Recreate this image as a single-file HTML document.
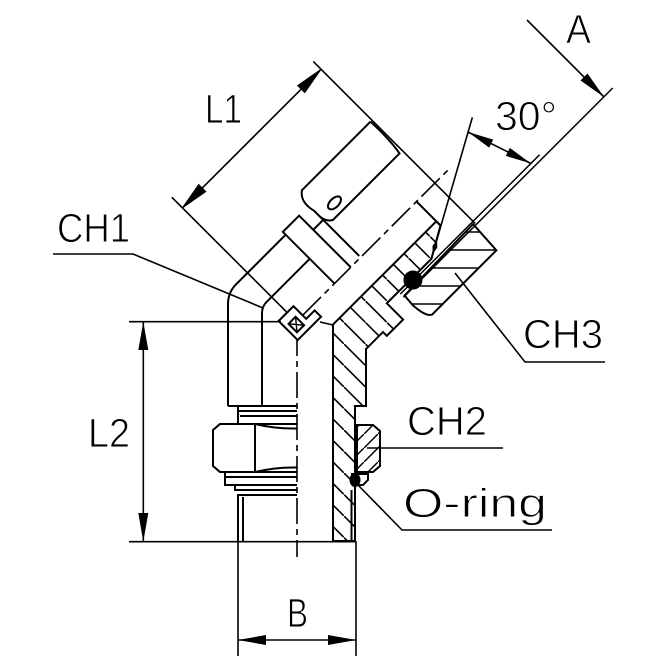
<!DOCTYPE html>
<html><head><meta charset="utf-8"><style>
html,body{margin:0;padding:0;background:#fff;}
svg{display:block;}
text{font-family:"Liberation Sans",sans-serif;font-size:41px;fill:#000;stroke:#fff;stroke-width:0.9px;}
</style></head><body>
<svg width="670" height="670" viewBox="0 0 670 670" xmlns="http://www.w3.org/2000/svg">
<defs>
<pattern id="hb" patternUnits="userSpaceOnUse" width="21.5" height="21.5">
<line x1="-1" y1="-1" x2="22.5" y2="22.5" stroke="#000" stroke-width="1.6"/>
</pattern>
<pattern id="hf" patternUnits="userSpaceOnUse" width="14" height="14">
<line x1="-1" y1="15" x2="15" y2="-1" stroke="#000" stroke-width="1.5"/>
</pattern>
<pattern id="hh" patternUnits="userSpaceOnUse" width="20" height="18">
<line x1="0" y1="16" x2="20" y2="16" stroke="#000" stroke-width="1.6"/>
</pattern>
</defs>
<rect width="670" height="670" fill="#fff"/>
<g fill="none" stroke="#000" stroke-width="2">
<!-- section body -->
<path d="M333,541 L333,324.6 L436.3,221.3 L440.5,225.5 L431.4,258.8 L386.8,303.3 L403.1,319.6 L386.8,335.8 L383,332 L366,349 L366,406 L355,406 L355,541 Z" fill="url(#hb)"/>
<line x1="351.5" y1="490" x2="351.5" y2="541"/>
<!-- nut section -->
<path d="M404.5,295.5 L412.3,304.7 Q425.7,316.8 432.1,314.6 L496.4,250.3 L473.1,224.1 Z" fill="url(#hh)"/>
<!-- CH2 nut -->
<path d="M357,425 L373,425 L380,431 L380,466 L373,472 L357,472 Z" fill="url(#hf)"/>
<path d="M352,474 L368,474 L368,480 L363,485 L353,485 Z"/>
<ellipse cx="355" cy="480" rx="4.5" ry="6" fill="#000"/>

<!-- left vertical body -->
<path d="M228,406 L228,304 Q228,292.4 236.2,284.2 L285.7,234.7"/>
<path d="M262,406 L262,313 Q262,306.5 266.6,301.9 L309.7,258.8"/>
<line x1="228" y1="406" x2="297" y2="406"/>
<path d="M238,406 L238,424"/>
<line x1="238" y1="411" x2="297" y2="411"/>
<line x1="240" y1="416" x2="297" y2="416"/>
<path d="M297,424 L220,424 L213,430 L213,466 L220,472 L297,472"/>
<line x1="255" y1="424" x2="255" y2="472"/>
<path d="M255,424 Q276,429 297,428.5"/>
<path d="M255,472 Q276,467 297,467.5"/>
<path d="M225,472 L225,485 L297,485"/>
<line x1="225" y1="477" x2="297" y2="477"/>
<path d="M235,485 L235,490 L297,490"/>
<path d="M238,541 L238,495 L297,495"/>
<line x1="243" y1="497" x2="243" y2="541"/>

<!-- vertical centerline -->
<line x1="297" y1="330" x2="297" y2="557" stroke-width="1.6" stroke-dasharray="26 5 6 5"/>

<!-- branch -->
<g transform="translate(297 321) rotate(-45)">
  <path d="M53,0 L53,-73 L76,-73 L76,0"/>
  <line x1="76" y1="-53" x2="90" y2="-53"/>
  <path d="M193,-89 L96,-89 Q86,-82 90,-66 L90,-2"/>
  <path d="M90,-58 Q91,-49 97,-46 L191,-46 Q194,-62 193,-89"/>
  <ellipse cx="110" cy="-57" rx="8" ry="4.5"/>
  <line x1="169" y1="0" x2="169" y2="34"/>
  <line x1="92" y1="54" x2="289" y2="54" stroke-width="1.5"/>
  <line x1="92" y1="58.5" x2="388" y2="58.5" stroke-width="1.5"/>
  <circle cx="111" cy="53" r="8.5" fill="#000"/>
  <line x1="139" y1="51" x2="268" y2="-20" stroke-width="1.6"/>
  <polygon points="155.3,42.1 150.96,46.75 144.7,47.9 149.04,43.25" fill="#000" stroke-width="1"/>
  <line x1="195" y1="-172" x2="195" y2="57" stroke-width="1.6"/>
  <line x1="-1" y1="-176" x2="-1" y2="10" stroke-width="1.6"/>
  <line x1="-1" y1="-161" x2="195" y2="-161" stroke-width="1.6"/>
  <polygon points="-1,-161 27,-166 27,-156" fill="#000" stroke-width="1"/>
  <polygon points="195,-161 167,-166 167,-156" fill="#000" stroke-width="1"/>
  <line x1="8" y1="0" x2="216" y2="0" stroke-dasharray="26 5 6 5" stroke-width="1.6"/>
  <path d="M-13,-13 L8,-13 L8,5 L20,5 L20,14 L-13,14 Z" fill="#fff"/>
  <rect x="-8" y="-4" width="10" height="12"/>
  <line x1="-8" y1="-4" x2="2" y2="8" stroke-width="1.4"/>
  <line x1="2" y1="-4" x2="-8" y2="8" stroke-width="1.4"/>
</g>

<!-- L2 dimension -->
<g stroke-width="1.6">
<line x1="129" y1="321.7" x2="281" y2="321.7"/>
<line x1="320" y1="322" x2="333" y2="325"/>
<line x1="129" y1="541.7" x2="355" y2="541.7"/>
<line x1="143.3" y1="321.7" x2="143.3" y2="541.7"/>
<!-- B -->
<line x1="238" y1="541" x2="238" y2="656"/>
<line x1="356" y1="541" x2="356" y2="656"/>
<line x1="238" y1="640" x2="356" y2="640"/>
<!-- A -->
<line x1="527" y1="20" x2="604" y2="97"/>
<!-- 30 deg -->
<line x1="468" y1="132" x2="531" y2="163.5"/>
<!-- leaders -->
<polyline points="53,254 133,254 263,308"/>
<polyline points="455,273 525,362 605,362"/>
<line x1="367" y1="448" x2="503" y2="448"/>
<polyline points="357,484 402,530 552,530"/>
</g>
<g fill="#000" stroke="none">
<polygon points="143.3,321.7 138.3,350 148.3,350"/>
<polygon points="143.3,541.7 138.3,513 148.3,513"/>
<polygon points="238,640 266,635 266,645"/>
<polygon points="356,640 328,635 328,645"/>
<polygon points="604,97 587.5,73.5 580.5,80.5"/>
<polygon points="468,132 489.2,147.6 493.2,139.6"/>
<polygon points="531,163.5 505.8,155.9 509.8,147.9"/>
</g>
</g>

<text x="57" y="242" textLength="73" lengthAdjust="spacingAndGlyphs">CH1</text>
<text x="205" y="123" textLength="37" lengthAdjust="spacingAndGlyphs">L1</text>
<text x="88" y="447" textLength="42" lengthAdjust="spacingAndGlyphs">L2</text>
<text x="287" y="627" textLength="21" lengthAdjust="spacingAndGlyphs">B</text>
<text x="566" y="43" textLength="25" lengthAdjust="spacingAndGlyphs">A</text>
<text x="495" y="130" textLength="62" lengthAdjust="spacingAndGlyphs">30°</text>
<text x="523" y="348" textLength="80" lengthAdjust="spacingAndGlyphs">CH3</text>
<text x="407" y="435" textLength="80" lengthAdjust="spacingAndGlyphs">CH2</text>
<text x="403" y="517" textLength="144" lengthAdjust="spacingAndGlyphs">O-ring</text>
</svg>
</body></html>
